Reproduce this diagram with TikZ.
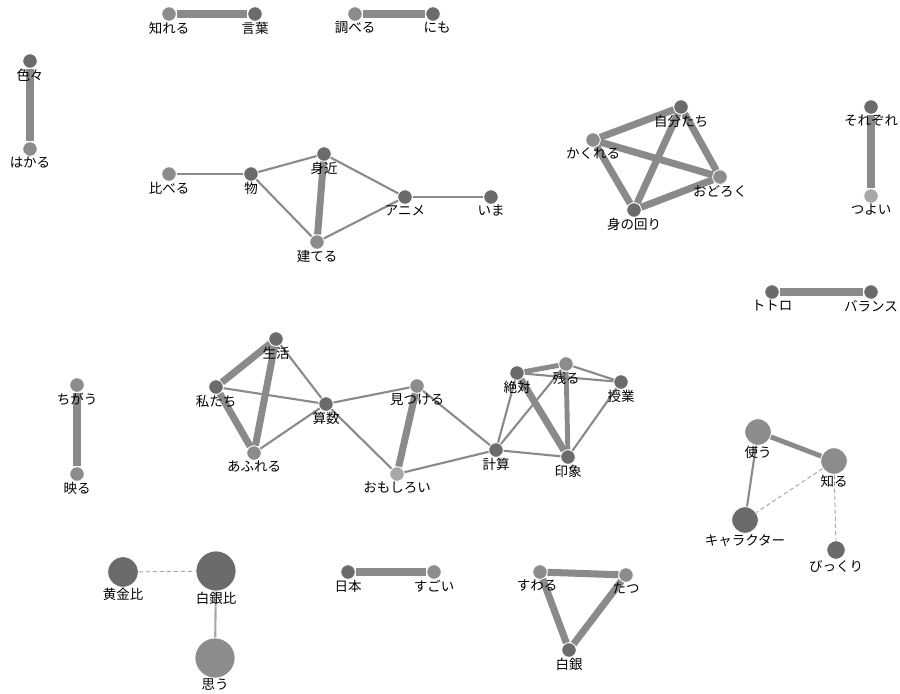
\documentclass[tikz,border=0pt]{standalone}
\usepackage{fontspec}
\newfontfamily\jpfont{Noto Sans CJK JP}
\usetikzlibrary{backgrounds}
\definecolor{nodedark}{HTML}{6B6B6B}
\definecolor{nodemid}{HTML}{8C8C8C}
\definecolor{nodelite}{HTML}{A8A8A8}
\definecolor{edgegray}{HTML}{8A8A8A}

\begin{document}
\begin{tikzpicture}[
    x=0.025cm, y=-0.025cm,
    word/.style={circle, draw=white, line width=0.5pt, minimum size=0.36cm, inner sep=0pt},
    dark/.style={word, fill=nodedark},
    mid/.style={word, fill=nodemid},
    lite/.style={word, fill=nodelite},
    wlabel/.style={font=\jpfont\fontsize{9.6}{10}\selectfont, text=black, inner sep=0.2pt},
    big/.style={minimum size=#1},
    strong/.style={draw=edgegray, line width=5pt},
    medium/.style={draw=edgegray, line width=3.5pt},
    weak/.style={draw=edgegray, line width=1.5pt},
    faint/.style={draw=nodelite, line width=0.7pt, dash pattern=on 3pt off 2pt}
]
\useasboundingbox (0,0) rectangle (900,693);

\node[mid, label={[wlabel]below:知れる}] (shireru) at (169,14) {};
\node[dark, label={[wlabel]below:言葉}] (kotoba) at (255,14) {};
\node[mid, label={[wlabel]below:調べる}] (shiraberu) at (355,14) {};
\node[dark, label={[wlabel, xshift=3pt]below:にも}] (nimo) at (433,14) {};
\node[dark, label={[wlabel]below:色々}] (iroiro) at (30,61) {};
\node[mid, label={[wlabel]below:はかる}] (hakaru) at (30,149) {};

\node[mid, label={[wlabel]below:比べる}] (kuraberu) at (169,174) {};
\node[dark, label={[wlabel]below:物}] (mono) at (251,174) {};
\node[dark, label={[wlabel]below:身近}] (mijika) at (324,154) {};
\node[dark, label={[wlabel]below:アニメ}] (anime) at (405,197) {};
\node[dark, label={[wlabel]below:いま}] (ima) at (491,197) {};
\node[mid, label={[wlabel]below:建てる}] (tateru) at (317,242) {};

\node[mid, label={[wlabel]below:かくれる}] (kakureru) at (593,140) {};
\node[dark, label={[wlabel]below:自分たち}] (jibuntachi) at (681,107) {};
\node[mid, label={[wlabel]below:おどろく}] (odoroku) at (720,177) {};
\node[dark, label={[wlabel]below:身の回り}] (minomawari) at (634,210) {};
\node[dark, label={[wlabel]below:それぞれ}] (sorezore) at (871,107) {};
\node[lite, label={[wlabel]below:つよい}] (tsuyoi) at (871,196) {};
\node[dark, label={[wlabel]below:トトロ}] (totoro) at (772,292) {};
\node[dark, label={[wlabel]below:バランス}] (balance) at (871,292) {};

\node[mid, label={[wlabel]below:ちがう}] (chigau) at (77,385) {};
\node[mid, label={[wlabel]below:映る}] (utsuru) at (77,474) {};
\node[dark, label={[wlabel]below:生活}] (seikatsu) at (276,339) {};
\node[dark, label={[wlabel]below:私たち}] (watashitachi) at (216,387) {};
\node[dark, label={[wlabel]below:算数}] (sansu) at (326,404) {};
\node[mid, label={[wlabel]below:あふれる}] (afureru) at (254,453) {};
\node[mid, label={[wlabel]below:見つける}] (mitsukeru) at (417,386) {};
\node[lite, label={[wlabel]below:おもしろい}] (omoshiroi) at (397,474) {};

\node[dark, label={[wlabel]below:絶対}] (zettai) at (517,373) {};
\node[mid, label={[wlabel]below:残る}] (nokoru) at (566,364) {};
\node[dark, label={[wlabel]below:授業}] (jugyo) at (621,382) {};
\node[dark, label={[wlabel]below:計算}] (keisan) at (496,450) {};
\node[dark, label={[wlabel]below:印象}] (insho) at (568,457) {};

\node[mid, big=0.66cm, label={[wlabel]below:使う}] (tsukau) at (758,432) {};
\node[mid, big=0.66cm, label={[wlabel]below:知る}] (shiru) at (834,461) {};
\node[dark, big=0.66cm, label={[wlabel]below:キャラクター}] (chara) at (745,520) {};
\node[dark, big=0.46cm, label={[wlabel]below:びっくり}] (bikkuri) at (836,550) {};

\node[dark, big=0.76cm, label={[wlabel]below:黄金比}] (ogonhi) at (123,572) {};
\node[dark, big=1cm, label={[wlabel]below:白銀比}] (hakuginhi) at (216,571) {};
\node[mid, big=1cm, label={[wlabel]below:思う}] (omou) at (215,658) {};
\node[dark, label={[wlabel]below:日本}] (nihon) at (348,572) {};
\node[mid, label={[wlabel]below:すごい}] (sugoi) at (434,572) {};
\node[mid, label={[wlabel, xshift=-2pt]below:すわる}] (suwaru) at (540,572) {};
\node[mid, label={[wlabel]below:たつ}] (tatsu) at (626,575) {};
\node[dark, label={[wlabel]below:白銀}] (hakugin) at (569,650) {};

\begin{scope}[on background layer]
\draw[strong] (shireru) -- (kotoba);
\draw[strong] (shiraberu) -- (nimo);
\draw[strong] (iroiro) -- (hakaru);
\draw[weak] (kuraberu) -- (mono);
\draw[weak] (mono) -- (mijika);
\draw[weak] (mono) -- (tateru);
\draw[strong] (mijika) -- (tateru);
\draw[weak] (mijika) -- (anime);
\draw[weak] (tateru) -- (anime);
\draw[weak] (anime) -- (ima);
\draw[strong] (kakureru) -- (jibuntachi);
\draw[strong] (kakureru) -- (odoroku);
\draw[strong] (kakureru) -- (minomawari);
\draw[strong] (jibuntachi) -- (minomawari);
\draw[strong] (jibuntachi) -- (odoroku);
\draw[strong] (minomawari) -- (odoroku);
\draw[strong] (sorezore) -- (tsuyoi);
\draw[strong] (totoro) -- (balance);
\draw[strong] (chigau) -- (utsuru);
\draw[strong] (watashitachi) -- (seikatsu);
\draw[strong] (seikatsu) -- (afureru);
\draw[strong] (watashitachi) -- (afureru);
\draw[weak] (seikatsu) -- (sansu);
\draw[weak] (watashitachi) -- (sansu);
\draw[weak] (afureru) -- (sansu);
\draw[weak] (sansu) -- (mitsukeru);
\draw[weak] (sansu) -- (omoshiroi);
\draw[strong] (mitsukeru) -- (omoshiroi);
\draw[weak] (omoshiroi) -- (keisan);
\draw[weak] (mitsukeru) -- (keisan);
\draw[medium] (zettai) -- (nokoru);
\draw[weak] (nokoru) -- (jugyo);
\draw[weak] (zettai) -- (jugyo);
\draw[strong] (zettai) -- (insho);
\draw[medium] (nokoru) -- (insho);
\draw[weak] (jugyo) -- (insho);
\draw[weak] (keisan) -- (zettai);
\draw[weak] (keisan) -- (nokoru);
\draw[weak] (keisan) -- (insho);
\draw[medium] (tsukau) -- (shiru);
\draw[weak] (tsukau) -- (chara);
\draw[faint] (shiru) -- (chara);
\draw[faint] (shiru) -- (bikkuri);
\draw[faint] (ogonhi) -- (hakuginhi);
\draw[weak, draw=nodelite] (hakuginhi) -- (omou);
\draw[strong] (nihon) -- (sugoi);
\draw[strong] (suwaru) -- (tatsu);
\draw[strong] (suwaru) -- (hakugin);
\draw[strong] (tatsu) -- (hakugin);
\end{scope}
\end{tikzpicture}
\end{document}
